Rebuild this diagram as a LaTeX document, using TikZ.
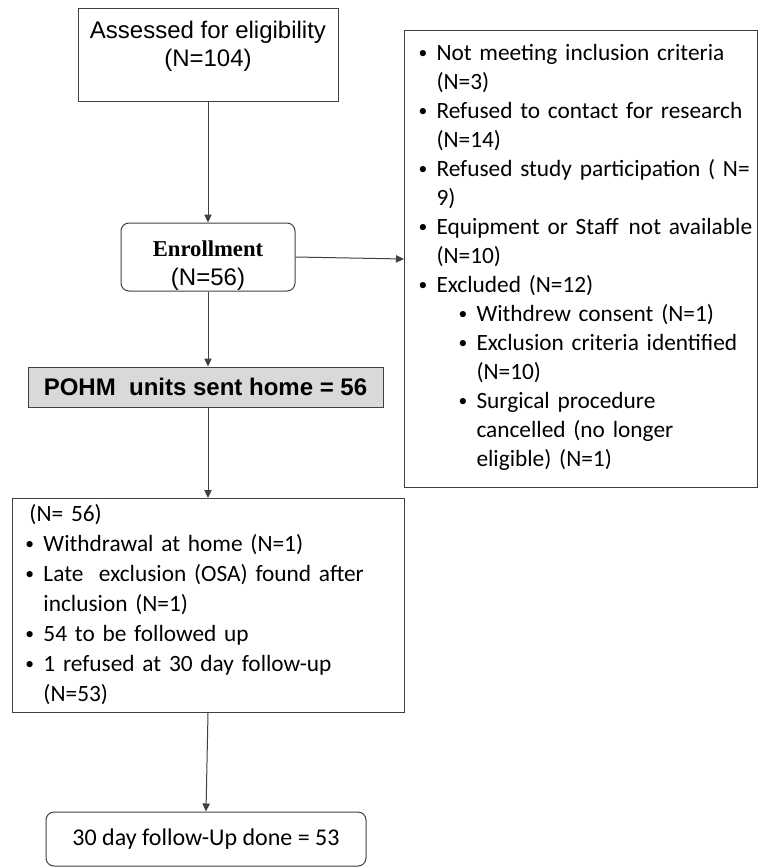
\documentclass[tikz,border=0pt]{standalone}
\usepackage{fontspec}
\setmainfont{Carlito}
\newfontfamily\arialfont{Liberation Sans}
\newfontfamily\timesfont{Liberation Serif}
\usetikzlibrary{arrows.meta}

\definecolor{linegray}{RGB}{64,64,64}
\definecolor{boxfill}{RGB}{217,217,217}
\newlength\pxu
\setlength\pxu{0.75pt}
% bullet line: #1 = left offset in px
\newcommand\pitem[2]{\par\noindent\hangindent=\dimexpr#1\pxu+18\pxu\relax\hangafter=1%
  \hspace*{#1\pxu}\makebox[18\pxu][l]{\raisebox{0.2ex}{\scalebox{0.75}{\textbullet}}}#2}

\begin{document}
\begin{tikzpicture}[x=0.75pt, y=-0.75pt, line width=0.75pt,
  box/.style={draw=linegray, inner sep=0pt},
  roundbox/.style={box, rounded corners=6pt},
  listtext/.style={anchor=north west, inner sep=0pt, text width=#1, align=left,
     font=\fontsize{17.5}{21.75}\selectfont},
  arr/.style={draw=linegray, -{Triangle[length=6pt,width=5.5pt]}}]

\useasboundingbox (0,0) rectangle (758,868);

\node[box, minimum width=195pt, minimum height=69.75pt] (assess) at (208,54.5) {};
\node[anchor=north, align=center, inner sep=0pt,
  font=\arialfont\fontsize{18}{21}\selectfont] (assesstxt) at (208,21)
  {Assessed for eligibility\\(N=104)};

\node[roundbox, minimum width=130.5pt, minimum height=51pt, align=center,
  font=\arialfont\fontsize{18}{21.75}\selectfont] (enrol) at (208,257)
  {\rule{0pt}{24pt}{\timesfont\bfseries\fontsize{17}{21}\selectfont Enrollment}\\(N=56)};

\node[box, fill=boxfill, minimum width=266.25pt, minimum height=30pt,
  font=\arialfont\bfseries\fontsize{18}{21}\selectfont] (pohm) at (205.5,387)
  {POHM\ \ units sent home = 56};

\node[box, anchor=north west, minimum width=264.75pt, minimum height=342.75pt]
  (reasons) at (404,30) {};
\node[listtext=264.75pt] (reasonstxt) at (404,31) {%
  \setlength\parskip{0pt}\raggedright
  \pitem{14}{\mbox{Not meeting inclusion criteria}\newline (N=3)}
  \pitem{14}{\mbox{Refused to contact for research}\newline (N=14)}
  \pitem{14}{\mbox{Refused study participation ( N=}\newline 9)}
  \pitem{14}{\mbox{Equipment or Staff\ \hspace{0.1em}not available}\newline (N=10)}
  \pitem{14}{Excluded (N=12)}
  \pitem{54}{\mbox{Withdrew consent (N=1)}}
  \pitem{54}{\mbox{Exclusion criteria identified}\newline (N=10)}
  \pitem{54}{\mbox{Surgical procedure}\newline \mbox{cancelled (no longer}\newline
    \mbox{eligible) (N=1)}}\par};

\node[box, anchor=north west, minimum width=294pt, minimum height=160.5pt]
  (followed) at (12,498) {};
\node[listtext=294pt, font=\fontsize{17.5}{22.5}\selectfont] (followedtxt)
  at (12,504) {%
  \setlength\parskip{0pt}\raggedright
  \noindent\hspace*{17\pxu}(N= 56)
  \pitem{13}{\mbox{Withdrawal at home (N=1)}}
  \pitem{13}{\mbox{Late\ \ exclusion (OSA) found after}\newline inclusion (N=1)}
  \pitem{13}{\mbox{54 to be followed up}}
  \pitem{13}{\mbox{1 refused at 30 day follow-up}\newline (N=53)}\par};

\node[roundbox, minimum width=240pt, minimum height=40.5pt,
  font=\fontsize{18}{22}\selectfont] (done) at (206,839)
  {30 day follow-Up\ done = 53};

\draw[arr] (assess) -- (enrol);
\draw[arr] (enrol.east) -- (reasons.west);
\draw[arr] (enrol.south) -- (enrol.south |- pohm.north);
\draw[arr] (enrol.south |- pohm.south) -- (enrol.south |- followed.north);
\draw[arr] (enrol.south |- followed.south) -- (done.north);
\end{tikzpicture}
\end{document}
